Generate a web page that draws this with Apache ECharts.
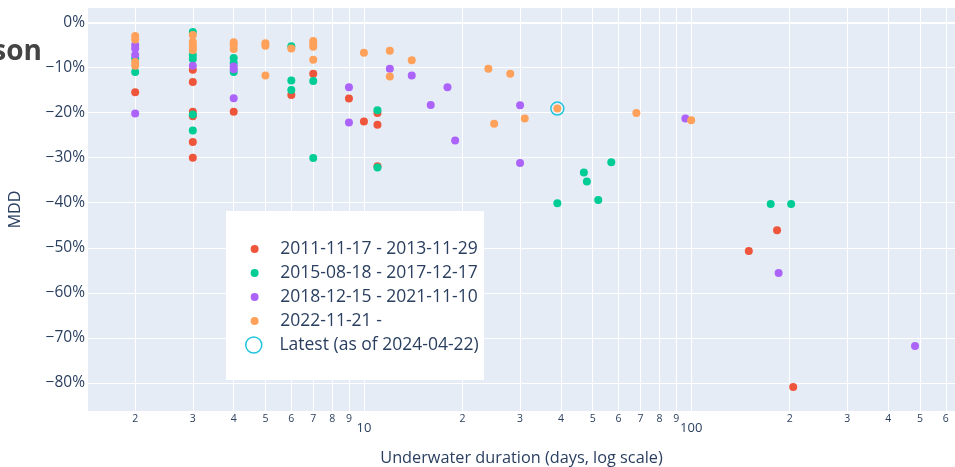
<!DOCTYPE html>
<html><head><meta charset="utf-8">
<script src="https://cdn.jsdelivr.net/npm/echarts@6/dist/echarts.min.js"></script>
<style>html,body{margin:0;padding:0;background:#fff}#c{width:955px;height:467px}</style>
</head><body><div id="c"></div>
<script>
// ---- data ----
const seriesNames = ['2011-11-17 - 2013-11-29', '2015-08-18 - 2017-12-17', '2018-12-15 - 2021-11-10', '2022-11-21 -'];
const latestName = 'Latest (as of 2024-04-22)';

const days1 = [2, 3, 3, 3, 3, 3, 3, 4, 6, 7, 9, 10, 11, 11, 11, 150, 183, 205];
const mdd1  = [-15.5, -10.5, -13.2, -19.8, -20.8, -26.5, -30.0, -19.8, -16.1, -11.4, -16.9, -22.0, -20.1, -22.7, -31.9, -50.7, -46.1, -80.9];

const days2 = [2, 2, 3, 3, 3, 3, 3, 4, 4, 4, 6, 6, 6, 7, 7, 11, 11, 39, 47, 48, 52, 57, 175, 202];
const mdd2  = [-8.0, -11.0, -2.1, -7.2, -8.1, -20.4, -24.0, -7.9, -9.0, -11.0, -5.3, -12.9, -15.0, -13.0, -30.1, -19.5, -32.2, -40.1, -33.3, -35.3, -39.4, -31.0, -40.3, -40.3];

const days3 = [2, 2, 2, 2, 3, 4, 4, 4, 9, 9, 12, 14, 16, 18, 19, 30, 30, 96, 185, 483];
const mdd3  = [-5.0, -5.8, -7.2, -20.2, -9.6, -9.8, -10.4, -16.8, -14.4, -22.2, -10.3, -11.8, -18.3, -14.4, -26.2, -18.4, -31.2, -21.3, -55.6, -71.8];

const days4 = [2, 2, 2, 2, 3, 3, 3, 3, 3, 4, 4, 4, 5, 5, 5, 6, 7, 7, 7, 7, 10, 12, 12, 14, 24, 25, 28, 31, 39, 68, 100];
const mdd4  = [-3.0, -3.8, -8.8, -9.6, -2.8, -4.3, -5.0, -5.6, -6.2, -4.4, -5.0, -5.9, -4.6, -5.2, -11.8, -5.8, -4.1, -4.8, -5.4, -8.3, -6.7, -6.3, -12.0, -8.4, -10.3, -22.5, -11.4, -21.3, -19.1, -20.1, -21.7];

const latestDays = [39];
const latestMdd  = [-19.1];

const xTickValues = [2, 3, 4, 5, 6, 7, 8, 9, 10, 20, 30, 40, 50, 60, 70, 80, 90, 100, 200, 300, 400, 500, 600];
const yTickValues = [0, -10, -20, -30, -40, -50, -60, -70, -80];

// ---- styles ----
const FONT = '"Open Sans", "DejaVu Sans", sans-serif';
const TXT = '#2a3f5f';
const COLORS = ['#EF553B', '#00CC96', '#AB63FA', '#FFA15A'];
const CYAN = '#22c5dc';

const pairs = (d, m) => d.map((v, i) => [v, m[i]]);
const allDays = [days1, days2, days3, days4];
const allMdd = [mdd1, mdd2, mdd3, mdd4];

const chart = echarts.init(document.getElementById('c'), null, {renderer: 'canvas'});

const series = seriesNames.map((name, i) => ({
  name: name,
  type: 'scatter',
  data: pairs(allDays[i], allMdd[i]),
  symbol: 'circle',
  symbolSize: 8,
  itemStyle: {color: COLORS[i], opacity: 1},
  emphasis: {disabled: true}
}));
series[0].markLine = {
  silent: true, symbol: 'none', animation: false,
  label: {show: false},
  lineStyle: {color: '#fff', width: 2, type: 'solid'},
  data: [{yAxis: 0}]
};
series.push({
  name: latestName,
  type: 'scatter',
  data: pairs(latestDays, latestMdd),
  symbol: 'circle',
  symbolSize: 13,
  z: 3,
  itemStyle: {color: 'transparent', borderColor: CYAN, borderWidth: 1.5, opacity: 1},
  emphasis: {disabled: true}
});

const option = {
  animation: false,
  backgroundColor: '#fff',
  textStyle: {fontFamily: FONT},
  grid: {left: 88, right: 0, top: 8, bottom: 56, show: true, backgroundColor: '#e5ecf6', borderWidth: 0, containLabel: false, outerBoundsMode: 'none'},
  xAxis: {
    type: 'log', logBase: 10, min: 1.435, max: 640,
    name: 'Underwater duration (days, log scale)',
    nameLocation: 'middle', nameGap: 39,
    nameTextStyle: {fontSize: 16.3, color: TXT, fontFamily: FONT},
    axisLine: {show: false},
    axisTick: {show: false, customValues: xTickValues},
    axisLabel: {
      customValues: xTickValues, margin: 3, color: TXT, fontSize: 10.5, fontFamily: FONT,
      formatter: function (v) {
        const s = String(Math.round(v));
        if (s === '10' || s === '100') return '{big|' + s + '}';
        return '{small|' + s.charAt(0) + '}';
      },
      rich: {
        small: {fontSize: 10.5, color: TXT, fontFamily: FONT},
        big: {fontSize: 13, color: TXT, fontFamily: FONT, padding: [8, 0, 0, 0]}
      }
    },
    splitLine: {show: true, lineStyle: {color: '#ffffff', width: 1}}
  },
  yAxis: {
    type: 'value', min: -86.2, max: 3.2,
    name: 'MDD', nameLocation: 'middle', nameGap: 65,
    nameTextStyle: {fontSize: 16, color: TXT, fontFamily: FONT},
    axisLine: {show: false},
    axisTick: {show: false, customValues: yTickValues},
    axisLabel: {
      customValues: yTickValues, margin: 3, fontSize: 15.5, color: TXT, fontFamily: FONT,
      formatter: v => (v < 0 ? '\u2212' : '') + Math.abs(v) + '%'
    },
    splitLine: {show: true, lineStyle: {color: '#ffffff', width: 1}}
  },
  legend: [
    {
      orient: 'vertical', left: 250.6, top: 240, padding: 0, itemGap: 6,
      itemWidth: 41.4, itemHeight: 8, icon: 'circle', selectedMode: false, z: 10,
      data: seriesNames,
      textStyle: {fontSize: 17.5, color: TXT, lineHeight: 18, fontFamily: FONT}
    },
    {
      orient: 'vertical', left: 245, top: 336, padding: 0,
      itemWidth: 41.4, itemHeight: 16, selectedMode: false, z: 10,
      data: [{name: latestName, icon: 'circle', itemStyle: {color: 'transparent', borderColor: CYAN, borderWidth: 1.5}}],
      textStyle: {fontSize: 17.5, color: TXT, lineHeight: 18, fontFamily: FONT}
    }
  ],
  graphic: [
    {type: 'rect', z: 5, silent: true, shape: {x: 226, y: 211, width: 258, height: 169}, style: {fill: '#ffffff'}},
    {type: 'text', z: 5, silent: true, style: {x: 42, y: 52, text: 'son', font: 'bold 28px "Open Sans"', fill: '#444444', align: 'right', verticalAlign: 'middle'}}
  ],
  series: series
};
chart.setOption(option);
</script>
</body></html>
